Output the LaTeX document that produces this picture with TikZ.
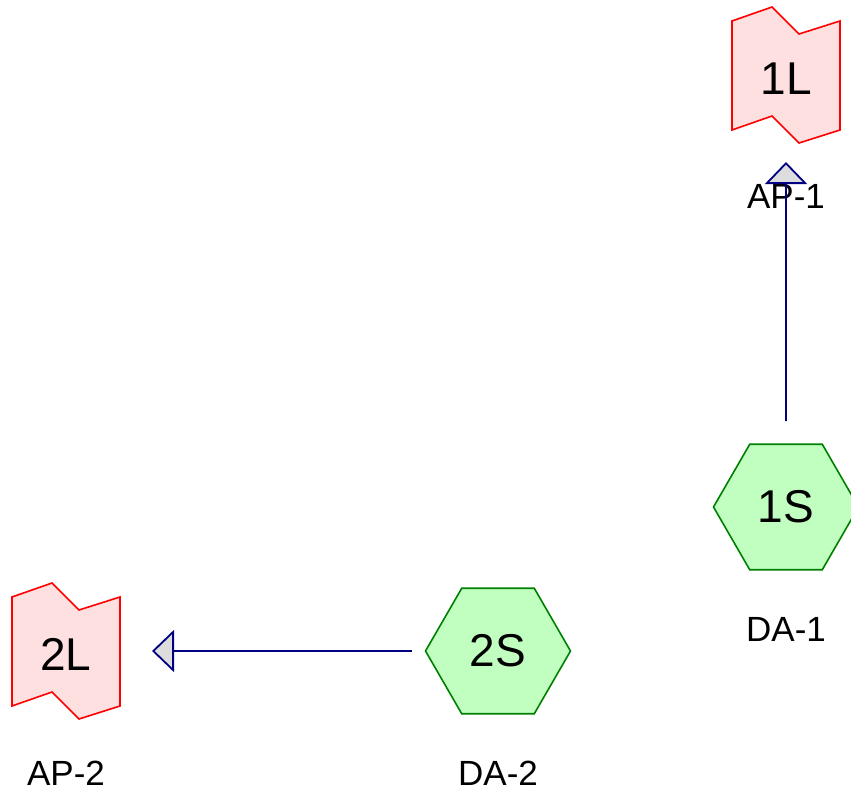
\documentclass[tikz,border=0pt]{standalone}
\usepackage{fontspec}
\setmainfont{Liberation Sans}
\usetikzlibrary{shapes.geometric,arrows.meta}

\definecolor{flagfill}{HTML}{FFE0E0}
\definecolor{hexfill}{HTML}{C0FFC0}
\definecolor{hexline}{HTML}{008000}
\definecolor{linkcol}{HTML}{000080}
\definecolor{tipfill}{HTML}{DDDDDD}

% Outline of a waving flag, centred on the given point
\newcommand\flagoutline[1]{%
  \begin{scope}[shift={(#1)}]
    \draw[flagshape] (-54,-54) -- (-14,-68) -- (13,-41) -- (54,-54)
      -- (54,55) -- (13,68) -- (-14,41) -- (-54,55) -- cycle;
  \end{scope}}

\begin{document}
\begin{tikzpicture}[x=1pt,y=-1pt,
  hexnode/.style={regular polygon, regular polygon sides=6,
    minimum size=145pt, inner sep=0pt, outer sep=0pt,
    draw=hexline, fill=hexfill, line width=1.6pt,
    font=\fontsize{46}{50}\selectfont},
  flagnode/.style={rectangle, minimum width=108pt, minimum height=136pt,
    inner sep=0pt, outer sep=0pt, font=\fontsize{46}{50}\selectfont},
  flagshape/.style={draw=red, fill=flagfill, line width=1.6pt, line join=miter},
  tag/.style={inner sep=0pt, font=\fontsize{35}{40}\selectfont},
  link/.style={draw=linkcol, line width=1.8pt,
    -{Triangle[length=22pt, width=42pt, fill=tipfill]}}
]
\useasboundingbox (0,0) rectangle (851,792);

% flags
\flagoutline{786,75}
\flagoutline{66,651}

% nodes
\node[flagnode] (l1) at (786,79) {1L};
\node[flagnode] (l2) at (66,654) {2L};
\node[hexnode] (s1) at (786,507) {1S};
\node[hexnode] (s2) at (498,651) {2S};

% captions
\node[tag] (t1) at (786,196) {AP-1};
\node[tag] (t2) at (786,629) {DA-1};
\node[tag] (t3) at (66,773) {AP-2};
\node[tag] (t4) at (498,773) {DA-2};

% connectors
\draw[link, shorten <=23pt, shorten >=15pt] (s1.north) -- (l1.south);
\draw[link, shorten <=14pt, shorten >=32pt] (s2.west) -- (s2.west -| l2.east);
\end{tikzpicture}
\end{document}
